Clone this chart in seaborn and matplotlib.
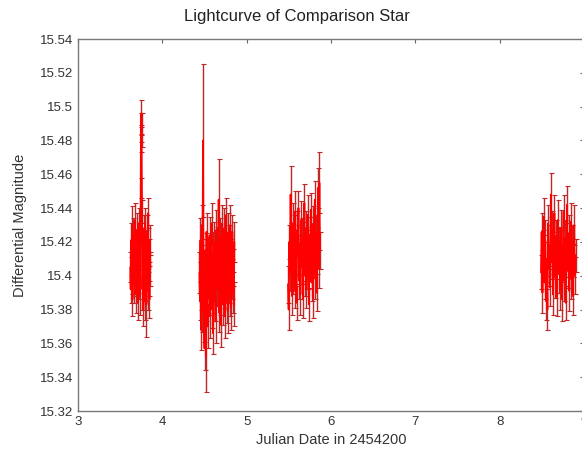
import numpy as np
import pandas as pd
import matplotlib
matplotlib.use("Agg")
import matplotlib.pyplot as plt
import seaborn as sns

# night 1
jd_1 = [3.620, 3.625, 3.630, 3.635, 3.640, 3.646, 3.651, 3.656, 3.661, 3.666,
        3.671, 3.677, 3.682, 3.687, 3.692, 3.697, 3.702, 3.708, 3.713, 3.718,
        3.723, 3.728, 3.733, 3.739, 3.744, 3.746, 3.748, 3.750, 3.752, 3.754,
        3.759, 3.764, 3.770, 3.775, 3.780, 3.785, 3.790, 3.795, 3.801, 3.806,
        3.811, 3.816, 3.821, 3.826, 3.832, 3.837, 3.842, 3.847, 3.852, 3.858]
mag_1 = [15.405, 15.392, 15.421, 15.398, 15.430, 15.386, 15.412, 15.425, 15.394, 15.418,
         15.401, 15.433, 15.389, 15.415, 15.397, 15.427, 15.405, 15.384, 15.419, 15.431,
         15.396, 15.422, 15.388, 15.416, 15.452, 15.478, 15.484, 15.490, 15.496, 15.486,
         15.438, 15.392, 15.416, 15.380, 15.428, 15.402, 15.385, 15.431, 15.395, 15.419,
         15.383, 15.410, 15.426, 15.391, 15.437, 15.398, 15.414, 15.386, 15.421, 15.404]
err_1 = [0.009, 0.008, 0.010, 0.009, 0.011, 0.010, 0.008, 0.009, 0.010, 0.008,
         0.009, 0.010, 0.011, 0.008, 0.009, 0.010, 0.009, 0.010, 0.008, 0.009,
         0.010, 0.009, 0.011, 0.008, 0.006, 0.005, 0.005, 0.006, 0.008, 0.010,
         0.007, 0.012, 0.009, 0.010, 0.008, 0.009, 0.011, 0.009, 0.010, 0.008,
         0.019, 0.009, 0.010, 0.011, 0.009, 0.010, 0.008, 0.011, 0.009, 0.010]

# night 2
jd_2 = [4.440, 4.446, 4.452, 4.458, 4.464, 4.470, 4.476, 4.482, 4.488, 4.494,
        4.500, 4.506, 4.512, 4.518, 4.524, 4.530, 4.536, 4.542, 4.548, 4.554,
        4.560, 4.566, 4.572, 4.578, 4.584, 4.590, 4.596, 4.602, 4.608, 4.614,
        4.620, 4.626, 4.632, 4.638, 4.644, 4.650, 4.656, 4.662, 4.668, 4.674,
        4.680, 4.686, 4.692, 4.698, 4.704, 4.710, 4.716, 4.722, 4.728, 4.734,
        4.740, 4.746, 4.752, 4.758, 4.764, 4.770, 4.776, 4.782, 4.788, 4.794,
        4.800, 4.806, 4.812, 4.818, 4.824, 4.830, 4.836, 4.842, 4.848, 4.854]
mag_2 = [15.402, 15.385, 15.421, 15.368, 15.395, 15.430, 15.378, 15.480, 15.410, 15.372,
         15.357, 15.398, 15.415, 15.352, 15.426, 15.391, 15.370, 15.412, 15.401, 15.387,
         15.424, 15.376, 15.408, 15.394, 15.431, 15.380, 15.413, 15.366, 15.399, 15.420,
         15.385, 15.404, 15.373, 15.427, 15.392, 15.417, 15.398, 15.402, 15.445, 15.378,
         15.389, 15.423, 15.371, 15.406, 15.396, 15.431, 15.383, 15.410, 15.392, 15.428,
         15.376, 15.414, 15.400, 15.436, 15.384, 15.409, 15.379, 15.425, 15.395, 15.418,
         15.387, 15.430, 15.381, 15.411, 15.398, 15.426, 15.390, 15.405, 15.383, 15.420]
err_2 = [0.012, 0.011, 0.013, 0.012, 0.010, 0.012, 0.011, 0.045, 0.012, 0.011,
         0.013, 0.012, 0.010, 0.021, 0.011, 0.012, 0.013, 0.011, 0.012, 0.010,
         0.011, 0.013, 0.012, 0.010, 0.012, 0.011, 0.013, 0.012, 0.011, 0.012,
         0.012, 0.011, 0.013, 0.012, 0.010, 0.012, 0.011, 0.012, 0.024, 0.011,
         0.012, 0.011, 0.013, 0.010, 0.012, 0.011, 0.012, 0.013, 0.011, 0.012,
         0.013, 0.011, 0.012, 0.010, 0.012, 0.011, 0.013, 0.012, 0.011, 0.012,
         0.011, 0.012, 0.013, 0.011, 0.012, 0.010, 0.012, 0.011, 0.013, 0.012]

# night 3
jd_3 = [5.490, 5.498, 5.506, 5.513, 5.521, 5.529, 5.537, 5.544, 5.552, 5.560,
        5.568, 5.575, 5.583, 5.591, 5.599, 5.606, 5.614, 5.622, 5.630, 5.637,
        5.645, 5.653, 5.661, 5.668, 5.676, 5.684, 5.692, 5.699, 5.707, 5.715,
        5.723, 5.730, 5.738, 5.746, 5.754, 5.761, 5.769, 5.777, 5.785, 5.792,
        5.800, 5.808, 5.816, 5.823, 5.831, 5.839, 5.847, 5.854, 5.862, 5.870]
mag_3 = [15.395, 15.380, 15.420, 15.402, 15.448, 15.410, 15.388, 15.431, 15.399, 15.425,
         15.391, 15.438, 15.406, 15.384, 15.427, 15.412, 15.440, 15.397, 15.419, 15.389,
         15.433, 15.405, 15.422, 15.386, 15.414, 15.443, 15.400, 15.428, 15.392, 15.417,
         15.436, 15.403, 15.383, 15.424, 15.409, 15.439, 15.396, 15.421, 15.387, 15.430,
         15.411, 15.445, 15.398, 15.426, 15.390, 15.418, 15.452, 15.404, 15.455, 15.415]
err_3 = [0.011, 0.012, 0.010, 0.011, 0.017, 0.010, 0.011, 0.012, 0.010, 0.011,
         0.010, 0.012, 0.011, 0.010, 0.011, 0.012, 0.010, 0.011, 0.010, 0.012,
         0.011, 0.010, 0.012, 0.011, 0.010, 0.011, 0.012, 0.010, 0.011, 0.010,
         0.012, 0.011, 0.010, 0.011, 0.012, 0.010, 0.011, 0.010, 0.012, 0.011,
         0.010, 0.011, 0.012, 0.010, 0.011, 0.010, 0.012, 0.011, 0.018, 0.011]

# night 4
jd_4 = [8.490, 8.498, 8.507, 8.515, 8.524, 8.532, 8.540, 8.549, 8.557, 8.566,
        8.574, 8.582, 8.591, 8.599, 8.607, 8.616, 8.624, 8.633, 8.641, 8.649,
        8.658, 8.666, 8.674, 8.683, 8.691, 8.700, 8.708, 8.716, 8.725, 8.733,
        8.741, 8.750, 8.758, 8.767, 8.775, 8.783, 8.792, 8.800, 8.808, 8.817,
        8.825, 8.834, 8.842, 8.850, 8.859, 8.867, 8.875, 8.884, 8.892, 8.900]
mag_4 = [15.402, 15.426, 15.390, 15.417, 15.435, 15.396, 15.421, 15.385, 15.410, 15.380,
         15.431, 15.404, 15.418, 15.393, 15.448, 15.408, 15.427, 15.389, 15.414, 15.437,
         15.399, 15.423, 15.387, 15.412, 15.433, 15.401, 15.419, 15.392, 15.428, 15.406,
         15.386, 15.416, 15.438, 15.397, 15.422, 15.384, 15.411, 15.442, 15.403, 15.425,
         15.391, 15.415, 15.432, 15.398, 15.420, 15.388, 15.409, 15.430, 15.400, 15.412]
err_4 = [0.010, 0.011, 0.012, 0.010, 0.011, 0.010, 0.012, 0.011, 0.010, 0.012,
         0.011, 0.010, 0.012, 0.011, 0.013, 0.010, 0.011, 0.012, 0.010, 0.011,
         0.012, 0.010, 0.011, 0.010, 0.012, 0.011, 0.010, 0.012, 0.011, 0.010,
         0.013, 0.011, 0.010, 0.012, 0.011, 0.010, 0.012, 0.011, 0.010, 0.011,
         0.012, 0.010, 0.011, 0.012, 0.010, 0.011, 0.010, 0.012, 0.011, 0.010]

x_ticks = [3, 4, 5, 6, 7, 8, 9]
y_ticks = [15.32, 15.34, 15.36, 15.38, 15.40, 15.42, 15.44, 15.46, 15.48, 15.50, 15.52, 15.54]

nights = [(jd_1, mag_1, err_1), (jd_2, mag_2, err_2), (jd_3, mag_3, err_3), (jd_4, mag_4, err_4)]
frames = []
for i, (jd, mag, err) in enumerate(nights):
    assert len(jd) == len(mag) == len(err)
    frames.append(pd.DataFrame({"jd": jd, "mag": mag, "err": err, "night": i}))
df = pd.concat(frames, ignore_index=True)

sns.set_style("white")
plt.rcParams["font.family"] = ["Liberation Sans", "DejaVu Sans"]

fig = plt.figure(figsize=(5.82, 4.53), dpi=100)
ax = fig.add_axes([78 / 582, 1 - 411 / 453, 506 / 582, 372 / 453])

# error bars first, the joined light curve on top
ax.errorbar(df["jd"], df["mag"], yerr=df["err"], fmt="none", ecolor="#c02828",
            elinewidth=1.0, capsize=1.8, capthick=0.8, zorder=2)
sns.lineplot(data=df, x="jd", y="mag", units="night", estimator=None, sort=False,
             color="#ff0000", linewidth=1.3, ax=ax, zorder=3)

ax.set_xlim(3, 9)
ax.set_ylim(15.32, 15.54)
ax.set_xticks(x_ticks)
ax.set_yticks(y_ticks)
ax.set_yticklabels([f"{v:g}" for v in y_ticks])
ax.tick_params(direction="in", length=3, width=0.8, colors="#666666",
               labelcolor="#333333", labelsize=9.5, top=True, right=True)

for s in ax.spines.values():
    s.set_color("#777777")
    s.set_linewidth(1.0)

ax.set_xlabel("Julian Date in 2454200", fontsize=10.5, color="#333333", labelpad=4)
ax.set_ylabel("Differential Magnitude", fontsize=10.5, color="#333333", labelpad=9)
ax.set_title("Lightcurve of Comparison Star", fontsize=12, color="#222222", x=0.432, pad=13)

fig.savefig("out.png", dpi=100)
